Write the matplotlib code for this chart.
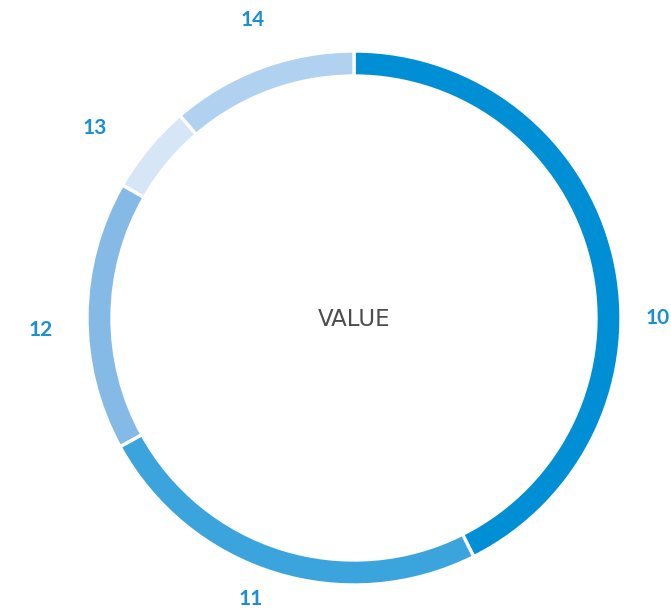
import numpy as np
import matplotlib
matplotlib.use("Agg")
import matplotlib.pyplot as plt

# Share of each category (percent)
categories = ["10", "11", "12", "13", "14"]
values = [42.6, 24.4, 16.3, 5.4, 11.3]
colors = ["#008fd5", "#3ca4dc", "#85b9e6", "#d7e6f7", "#b1d1f0"]
center_label = "VALUE"

W, H = 671, 610
fig = plt.figure(figsize=(W / 100, H / 100), dpi=100)
ax = fig.add_axes([0, 0, 1, 1])

cx, cy = 354, H - 318
outer_r = 267
ring_w = 25

ax.pie(values, colors=colors, startangle=90, counterclock=False,
       center=(cx, cy), radius=outer_r, frame=True,
       wedgeprops=dict(width=ring_w, edgecolor="white", linewidth=2.4))
ax.set_xlim(0, W)
ax.set_ylim(0, H)
ax.axis("off")

# Category labels sit outside the ring near each slice's middle angle
total = sum(values)
cum = np.cumsum([0] + values[:-1])
mid_deg = [(c + v / 2) / total * 360 for c, v in zip(cum, values)]
# small nudges so labels clear the ring and stay on the canvas
angle_nudge = [13.3, 2.9, -2.8, -3.4, 1.6]
label_r = [304, 299, 314, 321, 315]
for name, a, da, r in zip(categories, mid_deg, angle_nudge, label_r):
    t = np.deg2rad(a + da)
    x = cx + r * np.sin(t)
    y = cy + r * np.cos(t)
    ax.text(x, y, name, ha="center", va="center", fontsize=15,
            color="#1a8fd2", fontweight="bold", family="Lato")

ax.text(cx, cy - 1, center_label, ha="center", va="center", fontsize=16.5,
        color="#4d4d4d", family="DejaVu Sans")

fig.savefig("out.png", dpi=100)
